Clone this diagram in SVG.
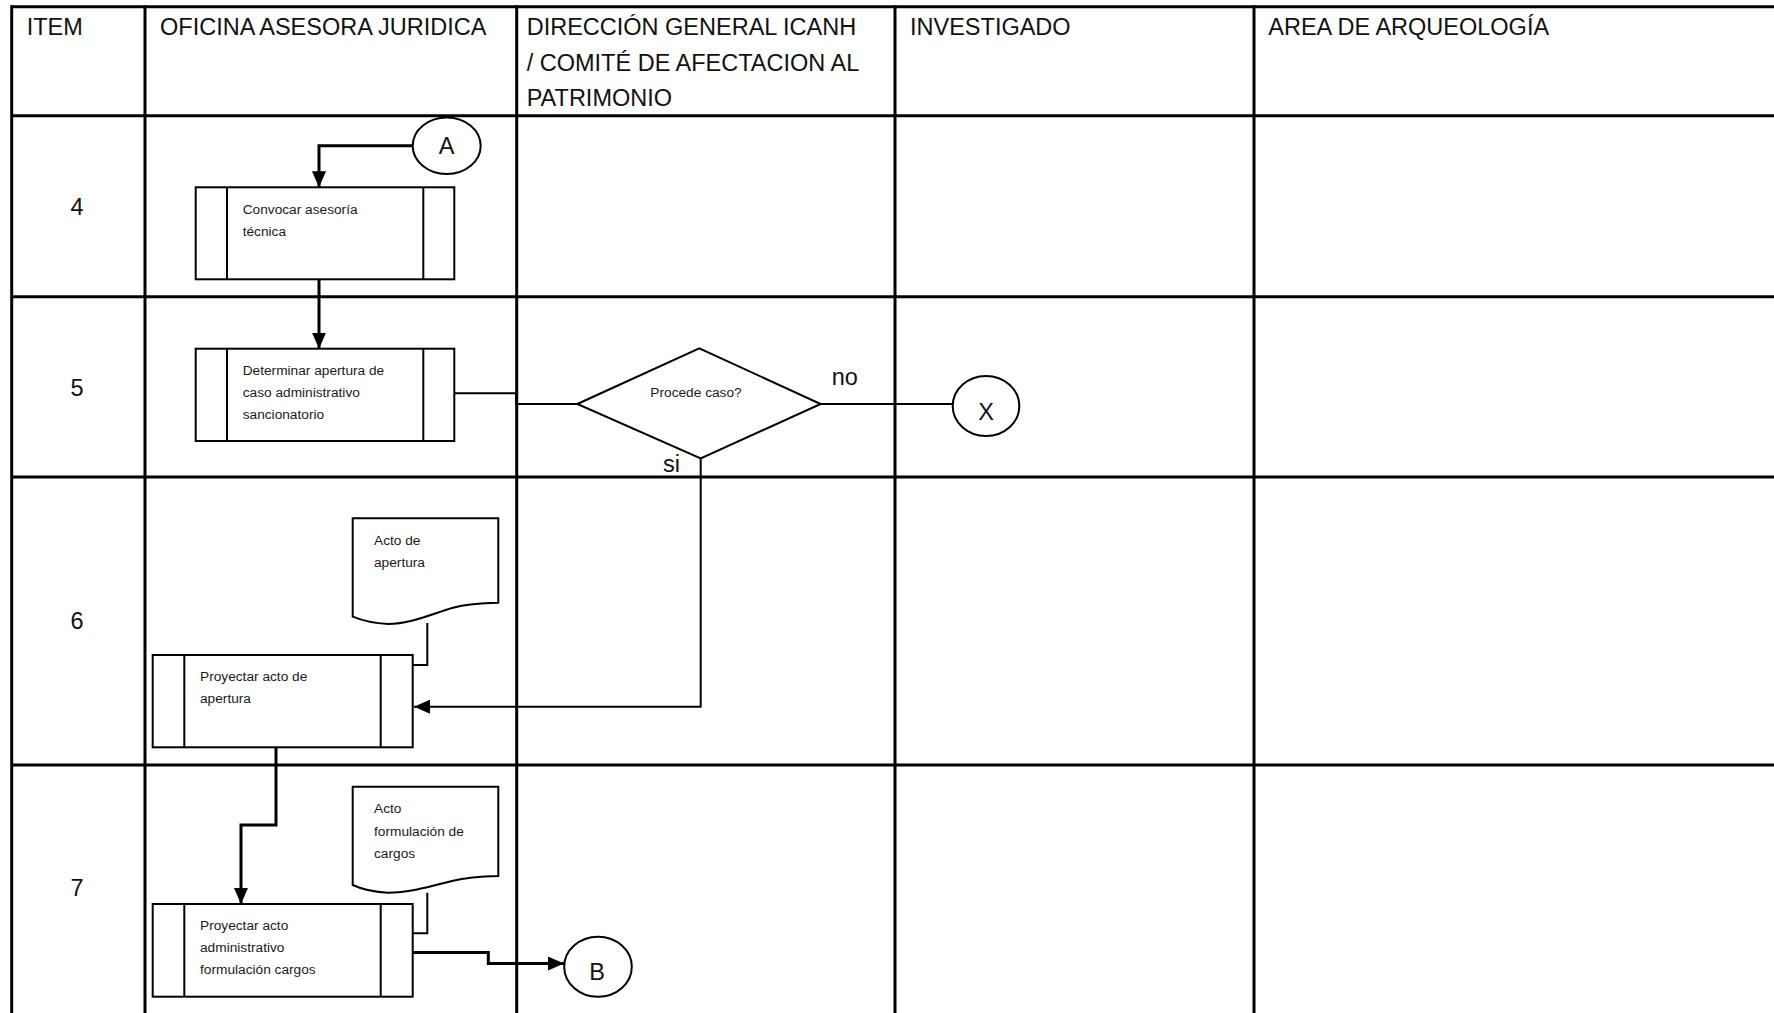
<svg xmlns="http://www.w3.org/2000/svg" width="1774" height="1013" viewBox="0 0 1774 1013">
<style>
.grid{stroke:#000;stroke-width:3;fill:none}
.hdr{font-family:"Liberation Sans",Arial,sans-serif;font-size:23.5px;fill:#111}
.big{font-family:"Liberation Sans",Arial,sans-serif;font-size:23.5px;fill:#111}
.sm{font-family:"Liberation Sans",Arial,sans-serif;font-size:13.7px;fill:#1a1a1a}
.shape{fill:#fff;stroke:#000;stroke-width:2}
.c{fill:none;stroke:#000;stroke-width:2}
.ct{fill:none;stroke:#000;stroke-width:3}
</style>
<defs>
<marker id="ah" markerUnits="userSpaceOnUse" viewBox="0 0 16 14" refX="16" refY="7" markerWidth="16" markerHeight="14" orient="auto">
<path d="M0,0 L16,7 L0,14 Z" fill="#000"/>
</marker>
</defs>
<rect width="1774" height="1013" fill="#fff"/>
<g id="table">
<line class="grid" x1="11.7" y1="6.7" x2="1774" y2="6.7"/>
<line class="grid" x1="11.7" y1="115.7" x2="1774" y2="115.7"/>
<line class="grid" x1="11.7" y1="296.7" x2="1774" y2="296.7"/>
<line class="grid" x1="11.7" y1="477" x2="1774" y2="477"/>
<line class="grid" x1="11.7" y1="765" x2="1774" y2="765"/>
<line class="grid" x1="11.7" y1="5.2" x2="11.7" y2="1013"/>
<line class="grid" x1="145" y1="5.2" x2="145" y2="1013"/>
<line class="grid" x1="516.7" y1="5.2" x2="516.7" y2="1013"/>
<line class="grid" x1="895" y1="5.2" x2="895" y2="1013"/>
<line class="grid" x1="1254" y1="5.2" x2="1254" y2="1013"/>
<text class="hdr" x="26.7" y="35">ITEM</text>
<text class="hdr" x="160" y="35">OFICINA ASESORA JURIDICA</text>
<text class="hdr" x="526.7" y="35">DIRECCIÓN GENERAL ICANH</text>
<text class="hdr" x="526.7" y="70.5">/ COMITÉ DE AFECTACION AL</text>
<text class="hdr" x="526.7" y="106">PATRIMONIO</text>
<text class="hdr" x="910" y="35">INVESTIGADO</text>
<text class="hdr" x="1268.3" y="35">AREA DE ARQUEOLOGÍA</text>
<text class="big" x="77" y="215" text-anchor="middle">4</text>
<text class="big" x="77" y="396" text-anchor="middle">5</text>
<text class="big" x="77" y="629" text-anchor="middle">6</text>
<text class="big" x="77" y="896" text-anchor="middle">7</text>
</g>
<g id="connectors">
<path class="ct" d="M412.7,145.7 H319 V187.3" marker-end="url(#ah)"/>
<path class="ct" d="M319,279.3 V348.7" marker-end="url(#ah)"/>
<path class="c" d="M454.3,393.3 H516 V404 H577.3"/>
<path class="c" d="M820.7,404 H952.7"/>
<path class="c" d="M700.7,458.3 V706.7 H414" stroke="#222" marker-end="url(#ah)"/>
<path class="c" d="M427.3,623 V665 H412.7"/>
<path class="ct" d="M276,747.3 V825 H241 V904" marker-end="url(#ah)"/>
<path class="c" d="M427.3,892.7 V933.3 H412.7"/>
<path class="ct" d="M412.7,952.5 H488.3 V963.5 H564" marker-end="url(#ah)"/>
<text class="big" x="831.7" y="385">no</text>
<text class="big" x="663" y="471.7">si</text>
</g>
<g id="nodeA">
<ellipse class="shape" cx="446.7" cy="145.7" rx="34" ry="28.3"/>
<text class="big" x="446.7" y="154" text-anchor="middle">A</text>
</g>
<g id="box1">
<rect class="shape" x="195.7" y="187.3" width="258.6" height="92"/>
<line class="c" x1="227" y1="187.3" x2="227" y2="279.3"/>
<line class="c" x1="423.3" y1="187.3" x2="423.3" y2="279.3"/>
<text class="sm" x="242.7" y="214">Convocar asesoría</text>
<text class="sm" x="242.7" y="235.7">técnica</text>
</g>
<g id="box2">
<rect class="shape" x="195.7" y="348.7" width="258.6" height="92.3"/>
<line class="c" x1="227" y1="348.7" x2="227" y2="441"/>
<line class="c" x1="423.3" y1="348.7" x2="423.3" y2="441"/>
<text class="sm" x="242.7" y="375">Determinar apertura de</text>
<text class="sm" x="242.7" y="397.3">caso administrativo</text>
<text class="sm" x="242.7" y="419.3">sancionatorio</text>
</g>
<g id="decision">
<path class="shape" d="M577.3,404 L699.3,348.3 L820.7,404 L700.7,458.3 Z"/>
<text class="sm" x="696" y="396.7" text-anchor="middle">Procede caso?</text>
</g>
<g id="nodeX">
<ellipse class="shape" cx="986" cy="406" rx="33.3" ry="30"/>
<text class="big" x="986" y="420" text-anchor="middle">X</text>
</g>
<g id="doc1">
<path class="shape" d="M352.7,518.3 H498.3 V602.7 Q470,603 452,608 C432,614 410,624 388,624 Q368,623 352.7,616.7 Z"/>
<text class="sm" x="374" y="545">Acto de</text>
<text class="sm" x="374" y="566.7">apertura</text>
</g>
<g id="box3">
<rect class="shape" x="152.7" y="655" width="260" height="92.3"/>
<line class="c" x1="184.3" y1="655" x2="184.3" y2="747.3"/>
<line class="c" x1="380.7" y1="655" x2="380.7" y2="747.3"/>
<text class="sm" x="200" y="681">Proyectar acto de</text>
<text class="sm" x="200" y="703.3">apertura</text>
</g>
<g id="doc2">
<path class="shape" d="M352.7,786.7 H498.3 V876 Q470,876.5 452,881 C432,886 410,892.7 388,892.7 Q368,892 352.7,885 Z"/>
<text class="sm" x="374" y="812.7">Acto</text>
<text class="sm" x="374" y="836">formulación de</text>
<text class="sm" x="374" y="857.7">cargos</text>
</g>
<g id="box4">
<rect class="shape" x="152.7" y="904" width="260" height="92.7"/>
<line class="c" x1="184.3" y1="904" x2="184.3" y2="996.7"/>
<line class="c" x1="380.7" y1="904" x2="380.7" y2="996.7"/>
<text class="sm" x="200" y="930">Proyectar acto</text>
<text class="sm" x="200" y="952.3">administrativo</text>
<text class="sm" x="200" y="974.3">formulación cargos</text>
</g>
<g id="nodeB">
<ellipse class="shape" cx="598" cy="966.7" rx="33.8" ry="30"/>
<text class="big" x="597" y="980" text-anchor="middle">B</text>
</g>
</svg>
